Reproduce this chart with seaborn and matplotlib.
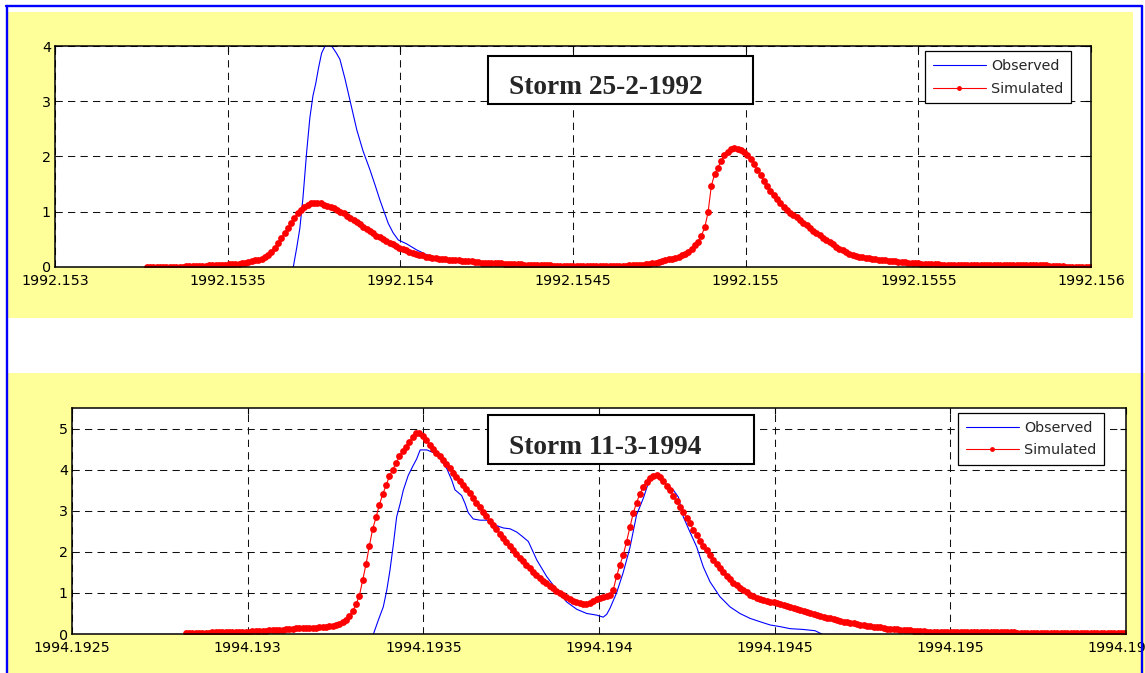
import numpy as np
import matplotlib
matplotlib.use("Agg")
import matplotlib.pyplot as plt
from matplotlib.patches import Rectangle
from matplotlib.lines import Line2D
import seaborn as sns

# ---------------- data ----------------
DT = 5.0 / (365.25 * 24 * 60)          # 5-minute time step in years

# Storm 25-2-1992
top_sim_start = 1992.1532655
top_sim = [
    0.00, 0.00, 0.00, 0.00, 0.00, 0.00, 0.00, 0.00, 0.00, 0.00,
    0.00, 0.00, 0.01, 0.01, 0.01, 0.02, 0.02, 0.02, 0.02, 0.03,
    0.03, 0.03, 0.03, 0.04, 0.04, 0.05, 0.06, 0.06, 0.06, 0.07,
    0.08, 0.09, 0.10, 0.12, 0.13, 0.15, 0.18, 0.22, 0.27, 0.35,
    0.43, 0.52, 0.62, 0.70, 0.79, 0.89, 0.97, 1.04, 1.09, 1.13,
    1.15, 1.16, 1.16, 1.15, 1.13, 1.11, 1.08, 1.06, 1.03, 1.00,
    0.97, 0.93, 0.89, 0.85, 0.81, 0.77, 0.73, 0.69, 0.65, 0.61,
    0.57, 0.54, 0.50, 0.47, 0.44, 0.41, 0.38, 0.35, 0.32, 0.30,
    0.28, 0.26, 0.24, 0.22, 0.21, 0.19, 0.18, 0.17, 0.16, 0.15,
    0.14, 0.14, 0.13, 0.13, 0.12, 0.12, 0.11, 0.11, 0.10, 0.10,
    0.09, 0.09, 0.08, 0.08, 0.08, 0.07, 0.07, 0.07, 0.07, 0.06,
    0.06, 0.06, 0.05, 0.05, 0.05, 0.04, 0.04, 0.04, 0.04, 0.03,
    0.03, 0.03, 0.03, 0.03, 0.02, 0.02, 0.02, 0.02, 0.02, 0.02,
    0.02, 0.02, 0.02, 0.02, 0.02, 0.02, 0.02, 0.02, 0.02, 0.02,
    0.02, 0.02, 0.02, 0.02, 0.02, 0.02, 0.02, 0.03, 0.03, 0.03,
    0.04, 0.04, 0.05, 0.06, 0.07, 0.08, 0.09, 0.11, 0.12, 0.14,
    0.15, 0.17, 0.19, 0.21, 0.24, 0.27, 0.33, 0.39, 0.45, 0.57,
    0.72, 0.99, 1.47, 1.68, 1.80, 1.92, 2.02, 2.09, 2.13, 2.15,
    2.14, 2.12, 2.08, 2.03, 1.95, 1.86, 1.76, 1.66, 1.56, 1.46,
    1.37, 1.30, 1.23, 1.16, 1.09, 1.03, 0.98, 0.94, 0.90, 0.85,
    0.80, 0.76, 0.71, 0.66, 0.62, 0.58, 0.53, 0.49, 0.45, 0.41,
    0.37, 0.33, 0.30, 0.27, 0.24, 0.22, 0.20, 0.19, 0.18, 0.17,
    0.16, 0.15, 0.14, 0.13, 0.13, 0.12, 0.11, 0.10, 0.10, 0.09,
    0.09, 0.09, 0.08, 0.08, 0.07, 0.07, 0.06, 0.06, 0.05, 0.05,
    0.05, 0.05, 0.04, 0.04, 0.04, 0.04, 0.04, 0.04, 0.04, 0.04,
    0.04, 0.04, 0.04, 0.04, 0.04, 0.04, 0.04, 0.04, 0.04, 0.04,
    0.04, 0.04, 0.04, 0.04, 0.04, 0.04, 0.04, 0.04, 0.04, 0.04,
    0.04, 0.04, 0.04, 0.04, 0.03, 0.02, 0.01, 0.01, 0.01, 0.01,
    0.00, 0.00, 0.00, 0.00, 0.00, 0.00, 0.00, 0.00, 0.00,
]
top_obs_t = [
    1992.153690, 1992.153700, 1992.153709, 1992.153718, 1992.153729,
    1992.153738, 1992.153747, 1992.153755, 1992.153763, 1992.153772,
    1992.153782, 1992.153801, 1992.153814, 1992.153825, 1992.153840,
    1992.153854, 1992.153874, 1992.153892, 1992.153912, 1992.153927,
    1992.153941, 1992.153965, 1992.153979, 1992.153994, 1992.154018,
    1992.154047, 1992.154077, 1992.154115,
]
top_obs = [
    0.00, 0.35, 0.70, 1.25, 2.10,
    2.70, 3.10, 3.32, 3.60, 3.87,
    4.00, 4.00, 3.88, 3.76, 3.40,
    3.02, 2.48, 2.10, 1.76, 1.48,
    1.21, 0.79, 0.62, 0.49, 0.42,
    0.31, 0.22, 0.15,
]
top_xtick_labels = ["1992.153", "1992.1535", "1992.154", "1992.1545",
                    "1992.155", "1992.1555", "1992.156"]
top_yticks = [0, 1, 2, 3, 4]
top_title = "Storm 25-2-1992"

# Storm 11-3-1994
bot_sim_start = 1994.1928236
bot_sim = [
    0.02, 0.02, 0.03, 0.03, 0.03, 0.03, 0.03, 0.03, 0.04, 0.04,
    0.04, 0.04, 0.04, 0.05, 0.05, 0.05, 0.05, 0.06, 0.06, 0.06,
    0.07, 0.07, 0.08, 0.08, 0.08, 0.09, 0.09, 0.10, 0.10, 0.10,
    0.11, 0.12, 0.13, 0.14, 0.14, 0.14, 0.15, 0.15, 0.15, 0.15,
    0.16, 0.17, 0.18, 0.19, 0.20, 0.22, 0.25, 0.29, 0.35, 0.43,
    0.56, 0.72, 0.93, 1.32, 1.70, 2.15, 2.56, 2.84, 3.15, 3.40,
    3.62, 3.84, 4.00, 4.16, 4.33, 4.45, 4.55, 4.68, 4.80, 4.88,
    4.88, 4.82, 4.73, 4.60, 4.50, 4.41, 4.32, 4.23, 4.13, 4.03,
    3.93, 3.83, 3.73, 3.63, 3.53, 3.43, 3.31, 3.20, 3.09, 2.98,
    2.87, 2.76, 2.66, 2.55, 2.44, 2.34, 2.24, 2.14, 2.05, 1.95,
    1.86, 1.78, 1.69, 1.60, 1.52, 1.44, 1.37, 1.30, 1.23, 1.17,
    1.11, 1.05, 1.00, 0.95, 0.90, 0.86, 0.81, 0.77, 0.75, 0.73,
    0.73, 0.76, 0.80, 0.85, 0.88, 0.90, 0.92, 0.96, 1.07, 1.40,
    1.68, 1.92, 2.25, 2.60, 2.94, 3.20, 3.41, 3.58, 3.71, 3.80,
    3.85, 3.86, 3.82, 3.73, 3.61, 3.50, 3.36, 3.23, 3.10, 2.96,
    2.83, 2.69, 2.53, 2.40, 2.27, 2.15, 2.04, 1.92, 1.81, 1.70,
    1.60, 1.50, 1.41, 1.33, 1.25, 1.19, 1.12, 1.06, 1.01, 0.96,
    0.92, 0.88, 0.85, 0.83, 0.81, 0.79, 0.77, 0.75, 0.73, 0.71,
    0.68, 0.65, 0.63, 0.61, 0.59, 0.56, 0.54, 0.52, 0.49, 0.47,
    0.44, 0.42, 0.40, 0.38, 0.36, 0.34, 0.32, 0.30, 0.29, 0.27,
    0.26, 0.24, 0.23, 0.21, 0.20, 0.19, 0.18, 0.17, 0.16, 0.15,
    0.13, 0.12, 0.11, 0.11, 0.10, 0.10, 0.09, 0.09, 0.08, 0.08,
    0.07, 0.07, 0.06, 0.06, 0.06, 0.05, 0.05, 0.05, 0.05, 0.05,
    0.05, 0.05, 0.05, 0.05, 0.05, 0.05, 0.05, 0.05, 0.05, 0.05,
    0.05, 0.05, 0.05, 0.05, 0.05, 0.05, 0.05, 0.05, 0.04, 0.03,
    0.02, 0.02, 0.02, 0.02, 0.02, 0.02, 0.02, 0.02, 0.02, 0.02,
    0.02, 0.02, 0.02, 0.02, 0.02, 0.02, 0.02, 0.02, 0.02, 0.02,
    0.02, 0.02, 0.02, 0.02, 0.02, 0.02, 0.02, 0.02, 0.02, 0.02,
    0.02, 0.02, 0.02,
]
bot_obs_t = [
    1994.193358, 1994.193372, 1994.193386, 1994.193396, 1994.193405,
    1994.193415, 1994.193424, 1994.193434, 1994.193443, 1994.193457,
    1994.193471, 1994.193481, 1994.193491, 1994.193510, 1994.193524,
    1994.193538, 1994.193552, 1994.193567, 1994.193581, 1994.193590,
    1994.193609, 1994.193619, 1994.193628, 1994.193642, 1994.193661,
    1994.193680, 1994.193704, 1994.193728, 1994.193747, 1994.193766,
    1994.193781, 1994.193799, 1994.193823, 1994.193851, 1994.193880,
    1994.193908, 1994.193937, 1994.193965, 1994.193993, 1994.194012,
    1994.194022, 1994.194031, 1994.194050, 1994.194069, 1994.194088,
    1994.194107, 1994.194126, 1994.194140, 1994.194150, 1994.194174,
    1994.194193, 1994.194212, 1994.194226, 1994.194240, 1994.194259,
    1994.194278, 1994.194297, 1994.194316, 1994.194344, 1994.194373,
    1994.194401, 1994.194430, 1994.194458, 1994.194487, 1994.194515,
    1994.194544, 1994.194582, 1994.194615, 1994.194634,
]
bot_obs = [
    0.00, 0.34, 0.66, 1.07, 1.55,
    2.20, 2.85, 3.17, 3.50, 3.86,
    4.10, 4.26, 4.48, 4.48, 4.43,
    4.39, 4.22, 4.02, 3.74, 3.51,
    3.37, 3.17, 2.95, 2.80, 2.77,
    2.77, 2.65, 2.58, 2.56, 2.48,
    2.38, 2.25, 1.80, 1.40, 1.07,
    0.78, 0.60, 0.50, 0.46, 0.41,
    0.48, 0.62, 1.00, 1.50, 2.10,
    2.90, 3.30, 3.66, 3.86, 3.86,
    3.62, 3.50, 3.33, 2.85, 2.48,
    2.12, 1.63, 1.27, 0.91, 0.66,
    0.50, 0.38, 0.30, 0.22, 0.18,
    0.13, 0.11, 0.08, 0.00,
]
bot_xtick_labels = ["1994.1925", "1994.193", "1994.1935", "1994.194",
                    "1994.1945", "1994.195", "1994.1955"]
bot_yticks = [0, 1, 2, 3, 4, 5]
bot_title = "Storm 11-3-1994"

series_labels = ["Observed", "Simulated"]

# ---------------- styling ----------------
sns.set_style("white")
plt.rcParams["font.family"] = ["DejaVu Sans"]

W, H = 1145, 673
fig = plt.figure(figsize=(W / 100, H / 100), dpi=100)
fig.patch.set_facecolor("white")


def fx(px):
    return px / W


def fy(py):
    return 1 - py / H


YELLOW = "#FFFF99"
BLUE = "#0000FF"
RED = "#FF0000"

# yellow panels
fig.add_artist(Rectangle((fx(8), fy(318)), (1133 - 8) / W, (318 - 12) / H,
                         transform=fig.transFigure, facecolor=YELLOW,
                         edgecolor="none", zorder=-5))
fig.add_artist(Rectangle((fx(8), fy(673)), (1145 - 8) / W, (673 - 373) / H,
                         transform=fig.transFigure, facecolor=YELLOW,
                         edgecolor="none", zorder=-5))

# blue frame
for xs, ys in [((6, 1142), (6, 6)), ((7, 7), (6, 673)), ((1141.5, 1141.5), (6, 673))]:
    fig.add_artist(Line2D([fx(xs[0]), fx(xs[1])], [fy(ys[0]), fy(ys[1])],
                          transform=fig.transFigure, color=BLUE, lw=1.7,
                          zorder=20))

FS = 10.3


def make_panel(rect_px, sim_start, sim_vals, obs_t, obs_v, xtl, yticks,
               ylim, leg_anchor, title, box_px, text_px):
    l, t, r, b = rect_px
    ax = fig.add_axes([fx(l), fy(b), (r - l) / W, (b - t) / H])
    ax.set_facecolor("white")
    sim_t = sim_start + DT * np.arange(len(sim_vals))
    sns.lineplot(x=np.array(obs_t), y=np.array(obs_v), ax=ax, color=BLUE,
                 lw=0.8, sort=False, estimator=None, label=series_labels[0])
    sns.lineplot(x=sim_t, y=np.array(sim_vals), ax=ax, color=RED, lw=0.8,
                 marker="o", markersize=4.9, markeredgewidth=0,
                 sort=False, estimator=None, label=series_labels[1])
    xt = [float(s) for s in xtl]
    ax.set_xlim(xt[0], xt[-1])
    ax.set_ylim(*ylim)
    ax.set_xticks(xt)
    ax.set_xticklabels(xtl)
    ax.set_yticks(yticks)
    ax.set_yticklabels([str(v) for v in yticks])
    ax.set_xlabel("")
    ax.set_ylabel("")
    ax.tick_params(axis="both", direction="in", length=4, width=0.8,
                   top=True, right=True, labelsize=FS, colors="black")
    ax.tick_params(axis="x", pad=5)
    ax.tick_params(axis="y", pad=3)
    ax.grid(True, color="#111111", linestyle=(0, (7, 5)), linewidth=0.75)
    ax.set_axisbelow(True)
    for s in ax.spines.values():
        s.set_color("black")
        s.set_linewidth(1.1)
        s.set_visible(True)
    leg = ax.legend(loc="upper right", bbox_to_anchor=leg_anchor,
                    borderaxespad=0, fontsize=FS, frameon=True,
                    fancybox=False, framealpha=1, edgecolor="black",
                    handlelength=3.7, handletextpad=0.35, borderpad=0.55,
                    labelspacing=0.6, numpoints=1)
    leg.get_frame().set_linewidth(0.9)
    for h in leg.get_lines():
        h.set_markersize(3.5)
    # title box
    bl, bt, br, bb = box_px
    fig.add_artist(Rectangle((fx(bl), fy(bb)), (br - bl) / W, (bb - bt) / H,
                             transform=fig.transFigure, facecolor="white",
                             edgecolor="black", lw=1.5, zorder=5))
    fig.text(fx(text_px[0]), fy(text_px[1]), title, family="Liberation Serif",
             fontweight="bold", fontsize=19.7, ha="left", va="baseline",
             zorder=6)
    return ax


make_panel((55, 46, 1091, 267), top_sim_start, top_sim, top_obs_t, top_obs,
           top_xtick_labels, top_yticks, (0, 4), (0.9807, 0.977),
           top_title, (488, 56, 753, 104), (509, 94))
make_panel((72, 408, 1126, 634), bot_sim_start, bot_sim, bot_obs_t, bot_obs,
           bot_xtick_labels, bot_yticks, (0, 5.5), (0.9791, 0.978),
           bot_title, (488, 415, 754, 463.5), (509, 454))

fig.savefig("out.png", dpi=100)
